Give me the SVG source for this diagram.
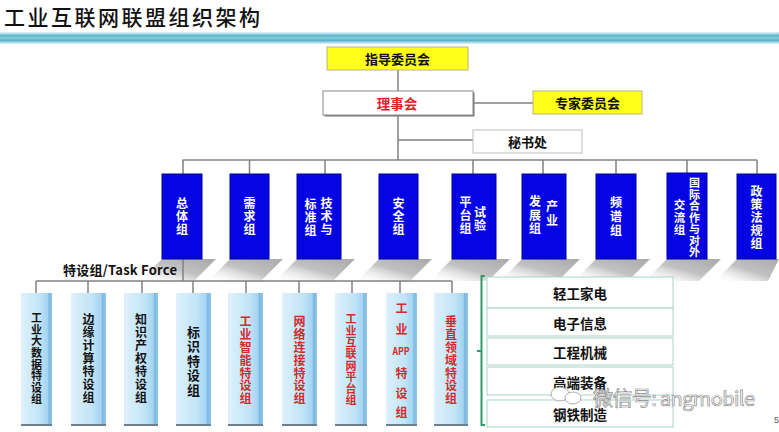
<svg xmlns="http://www.w3.org/2000/svg" width="779" height="432" viewBox="0 0 779 432">
<defs>
<linearGradient id="lb" x1="0" y1="0" x2="1" y2="0">
<stop offset="0" stop-color="#DDF1FB"/>
<stop offset="0.6" stop-color="#C2E4F7"/>
<stop offset="0.86" stop-color="#A3D4F1"/>
<stop offset="0.9" stop-color="#7FB9E0"/>
<stop offset="1" stop-color="#8FC6E8"/>
</linearGradient>
<linearGradient id="sh" x1="0" y1="1" x2="1" y2="0">
<stop offset="0" stop-color="#ffffff" stop-opacity="0"/>
<stop offset="0.5" stop-color="#c2c2c2"/>
<stop offset="1" stop-color="#a9a9a9"/>
</linearGradient>
<linearGradient id="bar" x1="0" y1="0" x2="0" y2="1">
<stop offset="0" stop-color="#E4F7FB"/>
<stop offset="0.3" stop-color="#5FB6CD"/>
<stop offset="0.5" stop-color="#86CCDD"/>
<stop offset="0.7" stop-color="#58B1C9"/>
<stop offset="1" stop-color="#E4F7FB"/>
</linearGradient>
</defs>
<style>
.ln{stroke:#808080;stroke-width:1.5;fill:none}
.t{font-family:"Noto Sans CJK SC","Noto Sans",sans-serif;font-weight:bold;text-anchor:middle;dominant-baseline:central}
.v{font-family:"Noto Sans CJK SC","Noto Sans",sans-serif;font-weight:bold;text-anchor:middle;writing-mode:vertical-rl}
.w{fill:#ffffff}
.k{fill:#111111}
.r{fill:#D42A2A}
.blue{fill:#0505E4;stroke:#00009A;stroke-width:1}
.lbox{fill:url(#lb)}
.bot{stroke:#6d7f8a;stroke-width:2}
.yel{fill:#FFFF1A;stroke:#B5B58A;stroke-width:1}
.stk{fill:#ffffff;stroke:#A9D3C9;stroke-width:1}
.s{fill:url(#sh)}
</style>
<rect width="779" height="432" fill="#ffffff"/>

<g id="title">
<text x="4" y="15.5" font-family="Noto Sans CJK SC, sans-serif" font-size="21" font-weight="500" fill="#111" dominant-baseline="central" textLength="256">工业互联网联盟组织架构</text>
<rect x="0" y="32" width="779" height="12" fill="url(#bar)"/>
</g>

<g id="shadows">
<polygon class="s" points="162,259 216,259 194,281 140,281"/>
<polygon class="s" points="230,259 283,259 261,281 208,281"/>
<polygon class="s" points="297,259 355,259 333,281 275,281"/>
<polygon class="s" points="379,259 432,259 410,281 357,281"/>
<polygon class="s" points="452,259 510,259 488,281 430,281"/>
<polygon class="s" points="522,259 580,259 558,281 500,281"/>
<polygon class="s" points="596,259 650,259 628,281 574,281"/>
<polygon class="s" points="667,259 721,259 699,281 645,281"/>
<polygon class="s" points="737,259 779,259 768,281 715,281"/>
</g>

<g id="connectors">
<line class="ln" x1="398" y1="70" x2="398" y2="91"/>
<line class="ln" x1="398" y1="115" x2="398" y2="160"/>
<line class="ln" x1="473" y1="103" x2="533" y2="103"/>
<line class="ln" x1="398" y1="140" x2="473" y2="140"/>
<line class="ln" x1="182.5" y1="160" x2="757" y2="160"/>
<line class="ln" x1="183" y1="160" x2="183" y2="281"/>
<line class="ln" x1="249.5" y1="160" x2="249.5" y2="174"/>
<line class="ln" x1="325" y1="160" x2="325" y2="174"/>
<line class="ln" x1="473" y1="160" x2="473" y2="174"/>
<line class="ln" x1="543" y1="160" x2="543" y2="174"/>
<line class="ln" x1="616" y1="160" x2="616" y2="174"/>
<line class="ln" x1="687" y1="160" x2="687" y2="173"/>
<line class="ln" x1="757" y1="160" x2="757" y2="174"/>
<line class="ln" x1="36" y1="281" x2="452" y2="281"/>
<line class="ln" x1="36" y1="281" x2="36" y2="293"/>
<line class="ln" x1="88" y1="281" x2="88" y2="293"/>
<line class="ln" x1="142" y1="281" x2="142" y2="293"/>
<line class="ln" x1="193" y1="281" x2="193" y2="293"/>
<line class="ln" x1="246" y1="281" x2="246" y2="293"/>
<line class="ln" x1="299" y1="281" x2="299" y2="293"/>
<line class="ln" x1="352" y1="281" x2="352" y2="293"/>
<line class="ln" x1="400" y1="281" x2="400" y2="293"/>
<line class="ln" x1="452" y1="281" x2="452" y2="293"/>
<path d="M485,276 H481.5 V425 H485 M481.5,351 H477" fill="none" stroke="#2E9A6A" stroke-width="2"/>
<text x="63" y="269" font-family="Noto Sans CJK SC, sans-serif" font-size="13" font-weight="bold" fill="#111" dominant-baseline="central" textLength="114">特设组/Task Force</text>
</g>

<g id="n-steering">
<rect class="yel" x="327" y="47" width="141" height="23"/>
<text class="t k" x="397.5" y="58.5" font-size="13">指导委员会</text>
</g>
<g id="n-council">
<rect x="324.5" y="92.5" width="150" height="24" fill="#777"/>
<rect x="323" y="91" width="150" height="24" fill="#fff" stroke="#8a8a8a" stroke-width="1"/>
<text class="t" x="397" y="103" font-size="13.5" fill="#E0202A">理事会</text>
</g>
<g id="n-experts">
<rect class="yel" x="533" y="91" width="109" height="23"/>
<text class="t k" x="587.5" y="102.5" font-size="13">专家委员会</text>
</g>
<g id="n-secretariat">
<rect x="473" y="130" width="109" height="23" fill="#fff" stroke="#bdbdbd" stroke-width="1"/>
<text class="t k" x="527.5" y="141.5" font-size="13">秘书处</text>
</g>

<g id="g-overall">
<rect class="blue" x="162" y="174" width="40" height="85"/>
<text class="v w" x="182" y="217" font-size="12" letter-spacing="1">总体组</text>
</g>
<g id="g-demand">
<rect class="blue" x="230" y="174" width="39" height="85"/>
<text class="v w" x="249.5" y="217" font-size="12" letter-spacing="1">需求组</text>
</g>
<g id="g-tech">
<rect class="blue" x="297" y="174" width="44" height="85"/>
<text class="v w" x="326.5" y="217" font-size="12" letter-spacing="1">技术与</text>
<text class="v w" x="310.5" y="218" font-size="12" letter-spacing="1">标准组</text>
</g>
<g id="g-security">
<rect class="blue" x="379" y="174" width="39" height="85"/>
<text class="v w" x="398.5" y="217" font-size="12" letter-spacing="1">安全组</text>
</g>
<g id="g-testbed">
<rect class="blue" x="452" y="174" width="44" height="85"/>
<text class="v w" x="480" y="219.5" font-size="12" letter-spacing="1">试验</text>
<text class="v w" x="465.5" y="216" font-size="12" letter-spacing="1">平台组</text>
</g>
<g id="g-industry">
<rect class="blue" x="522" y="174" width="44" height="85"/>
<text class="v w" x="552" y="214" font-size="12" letter-spacing="2">产业</text>
<text class="v w" x="535" y="216" font-size="12" letter-spacing="1.5">发展组</text>
</g>
<g id="g-spectrum">
<rect class="blue" x="596" y="174" width="40" height="85"/>
<text class="v w" x="616" y="217" font-size="12" letter-spacing="2">频谱组</text>
</g>
<g id="g-intl">
<rect class="blue" x="667" y="173" width="40" height="86"/>
<text class="v w" x="694.5" y="218" font-size="11" letter-spacing="0.5">国际合作与对外</text>
<text class="v w" x="679.5" y="218" font-size="11.5" letter-spacing="1">交流组</text>
</g>
<g id="g-policy">
<rect class="blue" x="737" y="174" width="39" height="85"/>
<text class="v w" x="756.5" y="217.5" font-size="12" letter-spacing="1">政策法规组</text>
</g>

<g id="tf-bigdata">
<rect class="lbox" x="21" y="293" width="31" height="132"/>
<line class="bot" x1="21" y1="425" x2="52" y2="425"/>
<text class="v k" x="36.5" y="359" font-size="11" letter-spacing="0.6">工业大数据特设组</text>
</g>
<g id="tf-edge">
<rect class="lbox" x="71" y="293" width="35" height="132"/>
<line class="bot" x1="71" y1="425" x2="106" y2="425"/>
<text class="v k" x="88.5" y="359" font-size="12" letter-spacing="1">边缘计算特设组</text>
</g>
<g id="tf-ip">
<rect class="lbox" x="124" y="293" width="34" height="132"/>
<line class="bot" x1="124" y1="425" x2="158" y2="425"/>
<text class="v k" x="141" y="359" font-size="12" letter-spacing="1">知识产权特设组</text>
</g>
<g id="tf-id">
<rect class="lbox" x="176" y="293" width="35" height="132"/>
<line class="bot" x1="176" y1="425" x2="211" y2="425"/>
<text class="v k" x="193.5" y="361.5" font-size="13" letter-spacing="1.5">标识特设组</text>
</g>
<g id="tf-ai">
<rect class="lbox" x="228" y="293" width="35" height="132"/>
<line class="bot" x1="228" y1="425" x2="263" y2="425"/>
<text class="v r" x="245.5" y="360.5" font-size="12" letter-spacing="0.9">工业智能特设组</text>
</g>
<g id="tf-net">
<rect class="lbox" x="282" y="293" width="35" height="132"/>
<line class="bot" x1="282" y1="425" x2="317" y2="425"/>
<text class="v r" x="299.5" y="360.5" font-size="12" letter-spacing="0.9">网络连接特设组</text>
</g>
<g id="tf-platform">
<rect class="lbox" x="335" y="293" width="32" height="132"/>
<line class="bot" x1="335" y1="425" x2="367" y2="425"/>
<text class="v r" x="351" y="360" font-size="11" letter-spacing="0.6">工业互联网平台组</text>
</g>
<g id="tf-app">
<rect class="lbox" x="386" y="293" width="31" height="132"/>
<line class="bot" x1="386" y1="425" x2="417" y2="425"/>
<text class="v r" x="401.5" y="323.5" font-size="12" letter-spacing="9">工业</text>
<text class="t r" x="401" y="350" font-size="10" textLength="17" lengthAdjust="spacingAndGlyphs">APP</text>
<text class="v r" x="401.5" y="397" font-size="12" letter-spacing="7.5">特设组</text>
</g>
<g id="tf-vertical">
<rect class="lbox" x="434" y="293" width="34" height="132"/>
<line class="bot" x1="434" y1="425" x2="468" y2="425"/>
<text class="v r" x="451" y="360.5" font-size="12" letter-spacing="0.9">垂直领域特设组</text>
</g>

<g id="sector-light">
<rect class="stk" x="487" y="277" width="186" height="31"/>
<text class="t k" x="580" y="293" font-size="13.5">轻工家电</text>
</g>
<g id="sector-electronics">
<rect class="stk" x="487" y="308" width="186" height="28"/>
<text class="t k" x="580" y="322.5" font-size="13.5">电子信息</text>
</g>
<g id="sector-machinery">
<rect class="stk" x="487" y="338" width="186" height="27"/>
<text class="t k" x="580" y="352" font-size="13.5">工程机械</text>
</g>
<g id="sector-equipment">
<rect class="stk" x="487" y="367" width="186" height="28"/>
<text class="t k" x="580" y="381.5" font-size="13.5">高端装备</text>
</g>
<g id="sector-steel">
<rect class="stk" x="487" y="400" width="186" height="27"/>
<text class="t k" x="580" y="414" font-size="13.5">钢铁制造</text>
</g>

<g id="watermark">
<ellipse cx="560" cy="394" rx="9" ry="7" fill="#fff" stroke="#9a9a9a" stroke-width="0.8"/>
<ellipse cx="573" cy="398" rx="8" ry="6" fill="#fff" stroke="#9a9a9a" stroke-width="0.8"/>
<text x="593" y="397" font-family="Noto Sans CJK SC, sans-serif" font-size="20" fill="#ffffff" stroke="#8a8a8a" stroke-width="0.7" dominant-baseline="central" textLength="162">微信号: angmobile</text>
</g>
<text x="774" y="420" font-family="Liberation Sans, sans-serif" font-size="9" fill="#555" dominant-baseline="central">5</text>
</svg>
